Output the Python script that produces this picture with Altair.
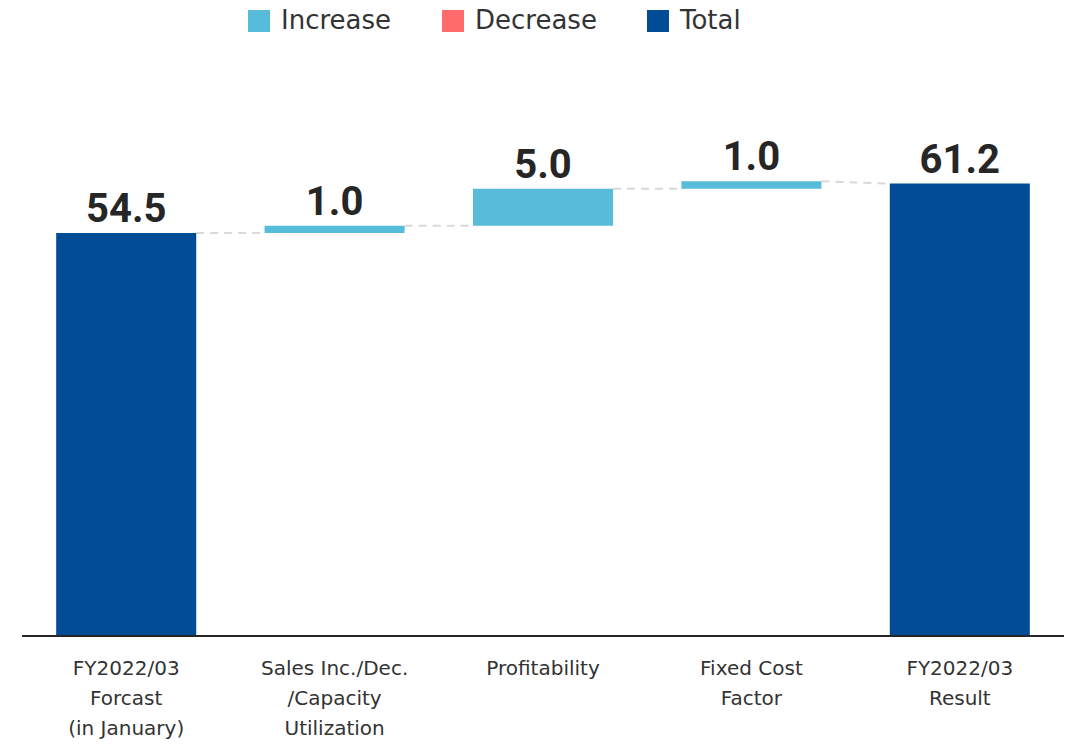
import altair as alt
import pandas as pd

categories = [
    "FY2022/03|Forcast|(in January)",
    "Sales Inc./Dec.|/Capacity|Utilization",
    "Profitability",
    "Fixed Cost|Factor",
    "FY2022/03|Result",
]
values = [54.5, 1.0, 5.0, 1.0, 61.2]
kinds = ["Total", "Increase", "Increase", "Increase", "Total"]

legend_domain = ["Increase", "Decrease", "Total"]
legend_colors = ["#56BCD9", "#FF6B6B", "#004C97"]

rows = []
running = 0.0
for i, (c, v, k) in enumerate(zip(categories, values, kinds)):
    if k == "Total":
        start, end = 0.0, v
        running = v
    else:
        start, end = running, running + v
        running = end
    rows.append({"idx": i, "kind": k, "cat": c,
                 "start": start, "end": end,
                 "xa": i - 0.336, "xb": i + 0.336,
                 "top": max(start, end), "zero": 0.0,
                 "label": f"{v:.1f}"})
df = pd.DataFrame(rows)

pts = []
for i in range(len(rows) - 1):
    a, b = rows[i], rows[i + 1]
    y2 = b["end"] if b["kind"] == "Total" else b["start"]
    pts.append({"seg": i, "order": 0, "px": a["xb"], "py": a["end"]})
    pts.append({"seg": i, "order": 1, "px": b["xa"], "py": y2})
cdf = pd.DataFrame(pts)

base_df = pd.DataFrame({"zero": [0.0]})

xscale = alt.Scale(domain=[-0.5, 4.5], nice=False, zero=False)
yscale = alt.Scale(domain=[0, 72.5], nice=False)

bars = alt.Chart(df).mark_rect().encode(
    x=alt.X("xa:Q", scale=xscale, axis=None),
    x2="xb:Q",
    y=alt.Y("start:Q", scale=yscale, axis=None),
    y2="end:Q",
    color=alt.Color("kind:N", scale=alt.Scale(domain=legend_domain, range=legend_colors),
                    legend=alt.Legend(
                        title="", orient="none", direction="horizontal",
                        legendX=224, legendY=-92,
                        symbolType="square", symbolSize=484, symbolStrokeWidth=0,
                        symbolOpacity=1,
                        labelFont="DejaVu Sans", labelFontSize=26, labelColor="#333333",
                        columnPadding=48, labelOffset=9,
                    )),
)

baseline = alt.Chart(base_df).mark_rule(color="#262626", strokeWidth=2).encode(
    y=alt.Y("zero:Q", scale=yscale, axis=None),
)

connectors = alt.Chart(cdf).mark_line(
    color="#D9D9D9", strokeWidth=2, strokeDash=[8, 6]
).encode(
    x=alt.X("px:Q", scale=xscale, axis=None),
    y=alt.Y("py:Q", scale=yscale, axis=None),
    detail="seg:N",
    order="order:Q",
)

texts = alt.Chart(df).mark_text(
    font="Roboto", fontWeight="bold", fontSize=40, color="#262626",
    baseline="bottom", dy=-3
).encode(
    x=alt.X("idx:Q", scale=xscale, axis=None),
    y=alt.Y("top:Q", scale=yscale, axis=None),
    text="label:N",
)

cat_labels = alt.Chart(df).mark_text(
    font="DejaVu Sans", fontSize=20, color="#333333", baseline="top",
    align="center", lineBreak="|", lineHeight=30, dy=23
).encode(
    x=alt.X("idx:Q", scale=xscale, axis=None),
    y=alt.Y("zero:Q", scale=yscale, axis=None),
    text="cat:N",
)

chart = alt.layer(connectors, bars, baseline, texts, cat_labels).properties(
    width=1042, height=536,
    padding={"left": 22, "top": 100, "right": 4, "bottom": 108},
    autosize=alt.AutoSizeParams(type="none"),
    background="white",
).configure_view(strokeWidth=0)

chart.save("out.html", embed_options={"renderer": "svg", "actions": False})
